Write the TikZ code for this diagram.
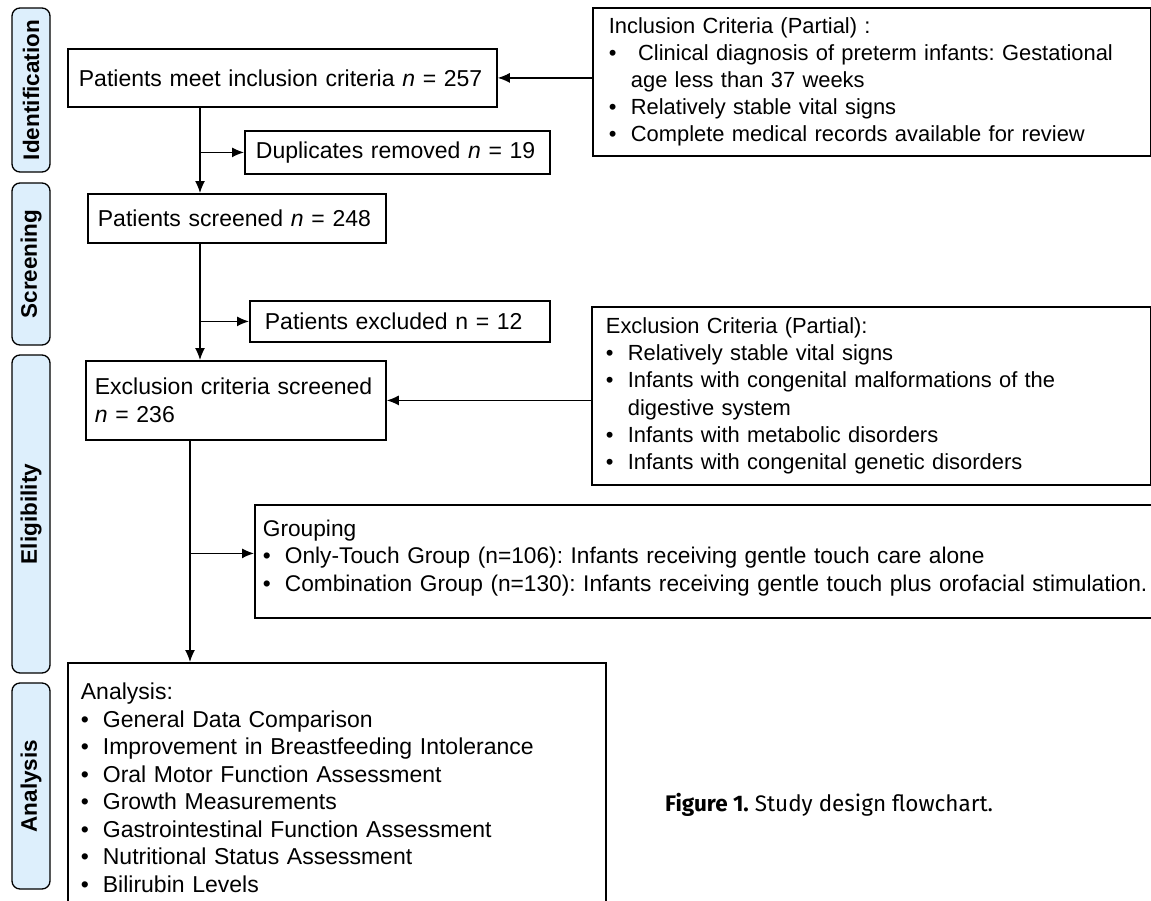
\documentclass[tikz,border=0pt]{standalone}
\usepackage{fontspec}
\setmainfont{Liberation Sans}
\newfontfamily\capfont{Fira Sans}
\usetikzlibrary{arrows.meta}
\definecolor{stagefill}{HTML}{DDEFFC}
\newcommand{\fs}{\fontsize{23}{27.5}\selectfont}
\newcommand{\fcrit}{\fontsize{21.9}{27.2}\selectfont}
\newcommand{\bul}{\makebox[22pt][l]{\textbullet}}
\newcommand{\cont}{\hspace*{22pt}}
\frenchspacing

\begin{document}
\begin{tikzpicture}[x=1pt, y=-1pt]
  % Define styles
  \tikzstyle{box}=[draw=black, line width=1.8pt, rectangle, anchor=north west, align=left, inner ysep=0pt, font=\fs]
  \tikzstyle{crit}=[box, font=\fcrit]
  \tikzstyle{stage}=[draw=black, line width=1.3pt, fill=stagefill, rounded corners=8pt, rotate=90, minimum height=38pt, inner sep=0pt, font=\fontsize{22.5}{26}\selectfont\bfseries]
  \tikzstyle{flow}=[-{Latex[length=12pt,width=10pt]}, line width=1.3pt]

  \useasboundingbox (0,0) rectangle (1151,900);
  \clip (0,0) rectangle (1151,900);

  % Stages
  \node[stage, minimum width=164pt] (ident) at (31,90) {Identification};
  \node[stage, minimum width=162pt] (screen) at (31,264) {Screening};
  \node[stage, minimum width=318pt] (elig) at (31,514) {Eligibility};
  \node[stage, minimum width=206pt] (analy) at (31,786) {Analysis};

  % Boxes
  \node[box, minimum width=429pt, minimum height=58pt, inner xsep=11pt, text width=407pt] (box1) at (67,48)
    {Patients meet inclusion criteria \textit{n} = 257};
  \node[box, minimum width=305pt, minimum height=43pt, inner xsep=11pt, text width=283pt] (dup) at (244,130)
    {Duplicates removed \textit{n} = 19};
  \node[box, minimum width=298pt, minimum height=49pt, inner xsep=10pt, text width=278pt] (screened) at (87,193)
    {Patients screened \textit{n} = 248};
  \node[box, minimum width=300pt, minimum height=41pt, inner xsep=15pt, text width=270pt] (excluded) at (249,300)
    {Patients excluded n = 12};
  \node[box, minimum width=300pt, minimum height=79pt, inner xsep=9pt, text width=282pt] (exscr) at (85,360)
    {Exclusion criteria screened\\\textit{n} = 236};
  \node[box, minimum width=920pt, minimum height=113pt, inner xsep=8pt, text width=904pt, font=\fontsize{22.7}{27.5}\selectfont] (group) at (254,504)
    {Grouping\\
     \bul Only-Touch Group (n=106): Infants receiving gentle touch care alone\\
     \bul Combination Group (n=130): Infants receiving gentle touch plus orofacial stimulation.\rule[-12pt]{0pt}{12pt}};
  \node[box, minimum width=538pt, minimum height=250pt, inner xsep=13pt, text width=512pt] (anal) at (67,662)
    {Analysis:\\
     \bul General Data Comparison\\
     \bul Improvement in Breastfeeding Intolerance\\
     \bul Oral Motor Function Assessment\\
     \bul Growth Measurements\\
     \bul Gastrointestinal Function Assessment\\
     \bul Nutritional Status Assessment\\
     \bul Bilirubin Levels};

  % Criteria
  \node[crit, minimum width=558pt, minimum height=148pt, inner xsep=16pt, text width=526pt] (incl) at (592,7)
    {Inclusion Criteria (Partial) :\\
     \bul\ Clinical diagnosis of preterm infants: Gestational\\
     \cont age less than 37 weeks\\
     \bul Relatively stable vital signs\\
     \bul Complete medical records available for review};
  \node[crit, minimum width=559pt, minimum height=178pt, inner xsep=14pt, text width=531pt] (excl) at (591,306)
    {Exclusion Criteria (Partial):\\
     \bul Relatively stable vital signs\\
     \bul Infants with congenital malformations of the\\
     \cont digestive system\\
     \bul Infants with metabolic disorders\\
     \bul Infants with congenital genetic disorders};

  % Caption
  \node[anchor=west, inner sep=0pt, font=\capfont\fontsize{22.5}{26}\selectfont] (caption) at (665,805)
    {\textbf{Figure 1.} Study design flowchart.};

  % Trunks
  \coordinate (t1) at (200,0);
  \coordinate (t2) at (190,0);
  \coordinate (gin) at ([yshift=8pt]group.west);

  % Flow
  \draw[flow] (box1.south -| t1) -- (screened.north -| t1);
  \draw[flow] (dup.west -| t1) -- (dup.west);
  \draw[flow] (screened.south -| t1) -- (exscr.north -| t1);
  \draw[flow] (excluded.west -| t1) -- (excluded.west);
  \draw[flow] (exscr.south -| t2) -- (anal.north -| t2);
  \draw[flow] (gin -| t2) -- (gin);
  \draw[flow] (incl.west |- box1.east) -- (box1.east);
  \draw[flow] (excl.west |- exscr.east) -- (exscr.east);
\end{tikzpicture}
\end{document}
